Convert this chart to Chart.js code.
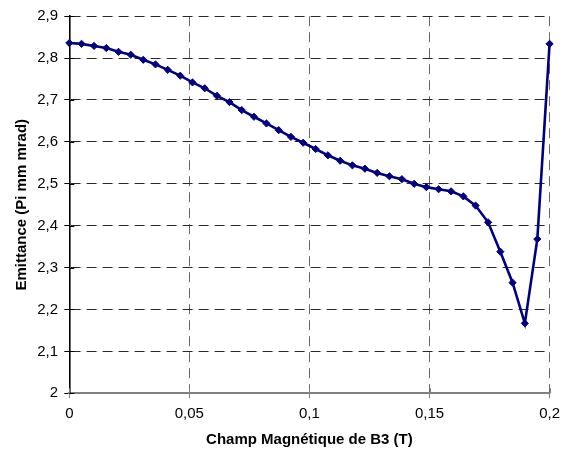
<!DOCTYPE html>
<html>
<head>
<meta charset="utf-8">
<script src="https://cdn.jsdelivr.net/npm/chart.js@4/dist/chart.umd.min.js"></script>
<style>
  html, body { margin: 0; padding: 0; background: #fff; }
  #wrap { width: 567px; height: 450px; }
</style>
</head>
<body>
<div id="wrap"><canvas id="c" width="567" height="450"></canvas></div>
<script>
// Champ magnétique de B3 (T)
const fieldB3 = [0, 0.0051, 0.0103, 0.0154, 0.0205, 0.0256, 0.0308, 0.0359, 0.0410, 0.0462,
                 0.0513, 0.0564, 0.0615, 0.0667, 0.0718, 0.0769, 0.0821, 0.0872, 0.0923, 0.0974,
                 0.1026, 0.1077, 0.1128, 0.1179, 0.1231, 0.1282, 0.1333, 0.1385, 0.1436, 0.1487,
                 0.1538, 0.1590, 0.1641, 0.1692, 0.1744, 0.1795, 0.1846, 0.1897, 0.1949, 0.2];
// Emittance (Pi mm mrad)
const emittance = [2.836, 2.834, 2.829, 2.824, 2.815, 2.808, 2.796, 2.785, 2.772, 2.758,
                   2.742, 2.728, 2.710, 2.695, 2.676, 2.660, 2.644, 2.628, 2.612, 2.598,
                   2.583, 2.568, 2.555, 2.544, 2.536, 2.526, 2.518, 2.511, 2.500, 2.492,
                   2.487, 2.482, 2.470, 2.448, 2.408, 2.338, 2.264, 2.167, 2.368, 2.834];

const xTickValues = [0, 0.05, 0.1, 0.15, 0.2];
const xTickLabels = ['0', '0,05', '0,1', '0,15', '0,2'];
const yTickValues = [2, 2.1, 2.2, 2.3, 2.4, 2.5, 2.6, 2.7, 2.8, 2.9];
const yTickLabels = ['2', '2,1', '2,2', '2,3', '2,4', '2,5', '2,6', '2,7', '2,8', '2,9'];

const xTitle = 'Champ Magnétique de B3 (T)';
const yTitle = 'Emittance (Pi mm mrad)';

const points = fieldB3.map((x, i) => ({ x: x, y: emittance[i] }));

const FONT = '"Liberation Sans", Arial, sans-serif';

const innerTicks = {
  id: 'innerTicks',
  beforeDatasetsDraw(chart) {
    const { ctx, chartArea, scales } = chart;
    ctx.save();
    ctx.lineWidth = 1;
    ctx.strokeStyle = '#000';
    scales.y.ticks.forEach(t => {
      const py = Math.round(scales.y.getPixelForValue(t.value)) + 0.5;
      ctx.beginPath();
      ctx.moveTo(chartArea.left, py);
      ctx.lineTo(chartArea.left + 5, py);
      ctx.stroke();
    });
    ctx.strokeStyle = '#808080';
    scales.x.ticks.forEach(t => {
      const px = Math.round(scales.x.getPixelForValue(t.value)) + 0.5;
      ctx.beginPath();
      ctx.moveTo(px, chartArea.bottom);
      ctx.lineTo(px, chartArea.bottom - 5);
      ctx.stroke();
    });
    ctx.restore();
  }
};

new Chart(document.getElementById('c'), {
  type: 'line',
  data: {
    datasets: [{
      data: points,
      borderColor: '#000080',
      backgroundColor: '#000080',
      borderWidth: 2.6,
      pointStyle: 'rectRot',
      pointRadius: 3.6,
      pointBorderWidth: 1,
      pointBackgroundColor: '#000080',
      pointBorderColor: '#000080',
      tension: 0,
      fill: false,
      clip: false
    }]
  },
  options: {
    responsive: false,
    animation: false,
    events: [],
    layout: { padding: { left: 0, right: 15, top: 16.2, bottom: 0 } },
    plugins: { legend: { display: false }, tooltip: { enabled: false } },
    scales: {
      x: {
        type: 'linear',
        min: 0,
        max: 0.2,
        afterBuildTicks: s => { s.ticks = xTickValues.map(v => ({ value: v })); },
        afterFit: s => { s.height = 56.7; },
        ticks: {
          color: '#000',
          font: { family: FONT, size: 15 },
          padding: 7,
          maxRotation: 0,
          autoSkip: false,
          callback: v => { const i = xTickValues.findIndex(t => Math.abs(t - v) < 1e-9); return i >= 0 ? xTickLabels[i] : ''; }
        },
        grid: {
          color: '#6a6a6a',
          lineWidth: 1,
          drawTicks: true,
          tickLength: 5,
          tickColor: '#808080',
          tickBorderDash: []
        },
        border: { display: true, color: '#808080', width: 2, dash: [10, 6] },
        title: {
          display: true,
          text: xTitle,
          color: '#000',
          font: { family: FONT, size: 15, weight: 'bold' },
          padding: { top: 0, bottom: 1 }
        }
      },
      y: {
        type: 'linear',
        min: 2,
        max: 2.9,
        afterBuildTicks: s => { s.ticks = yTickValues.map(v => ({ value: v })); },
        afterFit: s => { s.width = 69.3; },
        ticks: {
          color: '#000',
          font: { family: FONT, size: 15 },
          padding: 6.3,
          autoSkip: false,
          callback: v => { const i = yTickValues.findIndex(t => Math.abs(t - v) < 1e-9); return i >= 0 ? yTickLabels[i] : ''; }
        },
        grid: {
          color: '#2a2a2a',
          lineWidth: 1,
          drawTicks: true,
          tickLength: 5,
          tickColor: '#000',
          tickBorderDash: []
        },
        border: { display: true, color: '#000', width: 1.6, dash: [10, 6] },
        title: {
          display: true,
          text: yTitle,
          color: '#000',
          font: { family: FONT, size: 15, weight: 'bold' },
          padding: { top: 12.5, bottom: 0 }
        }
      }
    }
  },
  plugins: [innerTicks]
});
</script>
</body>
</html>
